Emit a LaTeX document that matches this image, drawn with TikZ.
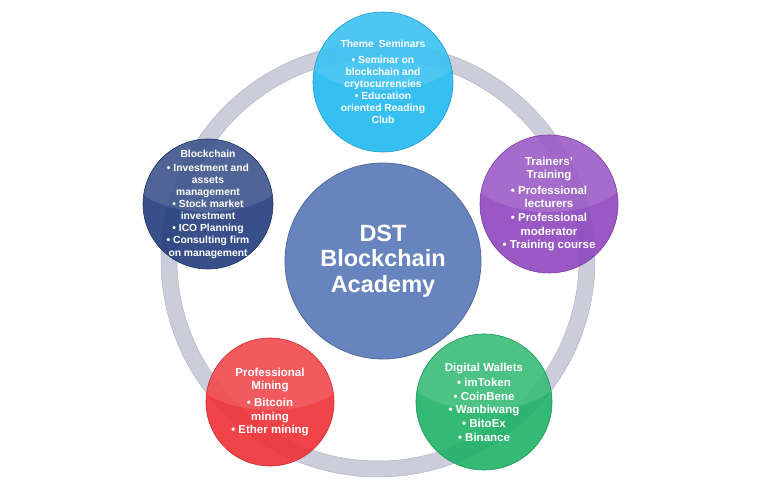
\documentclass[tikz,border=0pt]{standalone}
\usepackage{fontspec}
\setmainfont{Liberation Sans}

\definecolor{ringgray}{RGB}{203,205,218}
\definecolor{ringedge}{RGB}{178,181,198}
\definecolor{coreblue}{RGB}{104,132,190}
\definecolor{seminarcyan}{RGB}{32,184,240}
\definecolor{trainerpurple}{RGB}{142,70,190}
\definecolor{chaindarkblue}{RGB}{34,60,124}
\definecolor{miningred}{RGB}{240,48,52}
\definecolor{walletgreen}{RGB}{30,178,102}

\begin{document}
\begin{tikzpicture}[
    x=1pt, y=-1pt,
    ring/.style={circle, draw=ringgray, line width=16pt, minimum size=418pt, inner sep=0pt},
    core/.style={circle, draw=coreblue!80!black, line width=0.8pt, fill=coreblue, text=white, align=center, inner sep=0pt,
        font=\fontsize{23.5}{25.5}\selectfont\bfseries},
    bubble/.style={circle, inner sep=-40pt, line width=0.6pt, fill opacity=0.9, text opacity=1, text=white, align=center,
        font=\fontsize{10.3}{12.1}\selectfont\bfseries,
        path picture={\fill[white, fill opacity=0.12] ([yshift=36pt]path picture bounding box.center) ellipse (82pt and 44pt);}},
    bigtext/.style={font=\fontsize{11.5}{13.6}\selectfont\bfseries}
]
\useasboundingbox (0,0) rectangle (768,502);

\node (ring) [ring] at (378,260) {};
\draw [ringedge, line width=0.5pt] (ring.center) circle (217pt) (ring.center) circle (201pt);

\node (academy) [core, minimum size=196pt] at (383,261) {DST\\Blockchain\\Academy};

\node (seminars) [bubble, fill=seminarcyan, draw=seminarcyan!85!black, minimum size=140pt] at (383,82)
    {Theme\enspace Seminars\\[4pt]• Seminar on\\blockchain and\\crytocurrencies\\• Education\\oriented Reading\\Club};
\node (trainers) [bubble, bigtext, fill=trainerpurple, draw=trainerpurple!85!black, minimum size=138pt] at (549,204)
    {Trainers'\\Training\\[2pt]• Professional\\lecturers\\• Professional\\moderator\\• Training course};
\node (blockchain) [bubble, fill=chaindarkblue, draw=chaindarkblue!85!black, minimum size=130pt] at (208,204)
    {Blockchain\\[2pt]• Investment and\\assets\\management\\• Stock market\\investment\\• ICO Planning\\• Consulting firm\\on management};
\node (mining) [bubble, bigtext, fill=miningred, draw=miningred!85!black, minimum size=128pt] at (270,402)
    {Professional\\Mining\\[3pt]• Bitcoin\\mining\\• Ether mining};
\node (wallets) [bubble, bigtext, fill=walletgreen, draw=walletgreen!85!black, minimum size=136pt] at (484,402)
    {Digital Wallets\\[2pt]• imToken\\• CoinBene\\• Wanbiwang\\• BitoEx\\• Binance};

\end{tikzpicture}
\end{document}
